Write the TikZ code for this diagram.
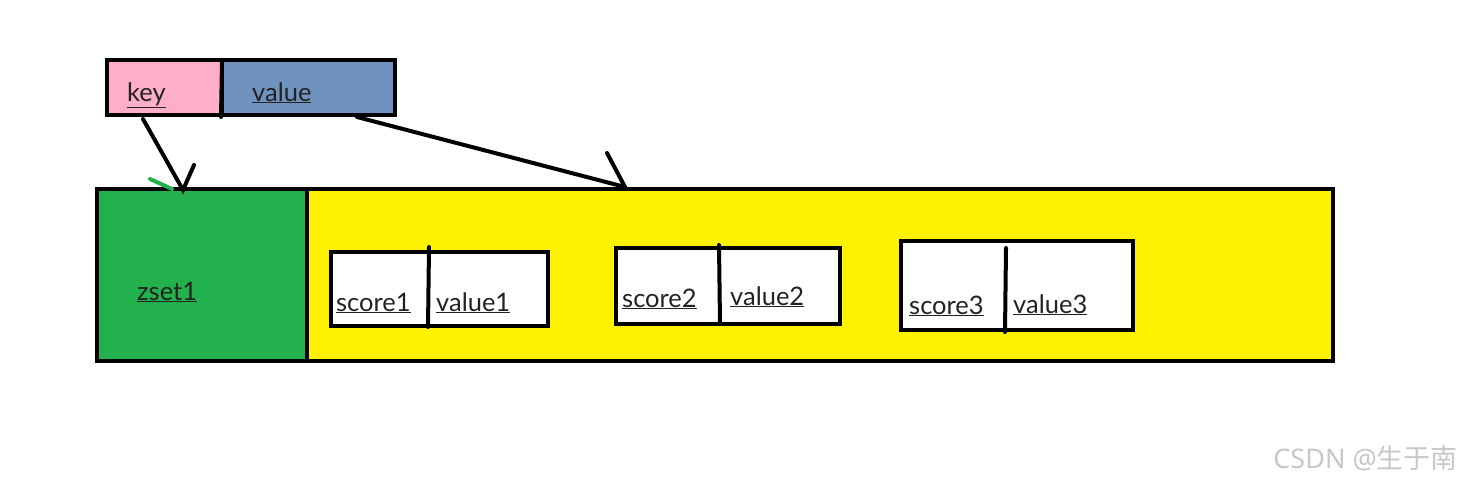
\documentclass[tikz,border=0pt]{standalone}
\usepackage{fontspec}
\setmainfont{Lato}
\newfontfamily\cjk{Noto Sans CJK SC}
\definecolor{kpink}{HTML}{FFAEC9}
\definecolor{vblue}{HTML}{7092BE}
\definecolor{zgreen}{HTML}{22B14C}
\definecolor{zyellow}{HTML}{FFF200}
\definecolor{txt}{HTML}{222222}
\definecolor{wm}{HTML}{C8C8C8}
\begin{document}
\begin{tikzpicture}[x=1pt,y=-1pt,
  box/.style={draw=black,line width=4pt,inner sep=0pt,rectangle},
  lbl/.style={anchor=base west,inner sep=0pt,font=\fontsize{25.5}{25.5}\selectfont,text=txt},
  stroke/.style={line width=4pt,line cap=round}]
\useasboundingbox[fill=white] (0,0) rectangle (1463,483);
% key / value
\node[box,fill=kpink,minimum width=115pt,minimum height=55pt] (key) at (164.5,87.5) {};
\node[box,fill=vblue,minimum width=173pt,minimum height=55pt] (val) at (308.5,87.5) {};
\coordinate (kvtop) at (222,62);
\coordinate (kvbot) at (221,117);
\draw[stroke] (kvtop) -- (kvbot);
\node[lbl] (tkey) at (127,101) {\underline{key}};
\node[lbl] (tval) at (252,101) {\underline{value}};
% zset
\node[box,fill=zgreen,minimum width=210pt,minimum height=172pt] (zset) at (202,275) {};
\node[box,fill=zyellow,minimum width=1026pt,minimum height=172pt] (list) at (820,275) {};
\node[lbl,text=txt] (tz) at (137,300) {\underline{zset1}};
% inner boxes
\node[box,fill=white,minimum width=217pt,minimum height=74pt] (b1) at (439.5,289) {};
\node[box,fill=white,minimum width=224pt,minimum height=76pt] (b2) at (728,286) {};
\node[box,fill=white,minimum width=232pt,minimum height=89pt] (b3) at (1017,285.5) {};
\coordinate (d1t) at (429,247); \coordinate (d1b) at (428,327);
\coordinate (d2t) at (719,245); \coordinate (d2b) at (720,323);
\coordinate (d3t) at (1006,248); \coordinate (d3b) at (1005,332);
\draw[stroke] (d1t) -- (d1b);
\draw[stroke] (d2t) -- (d2b);
\draw[stroke] (d3t) -- (d3b);
\node[lbl] (s1) at (336,311) {\underline{score1}};
\node[lbl] (v1) at (436,311) {\underline{value1}};
\node[lbl] (s2) at (622,307) {\underline{score2}};
\node[lbl] (v2) at (730,305) {\underline{value2}};
\node[lbl] (s3) at (909,314) {\underline{score3}};
\node[lbl] (v3) at (1013,313) {\underline{value3}};
% arrows
\coordinate (a1s) at (143,119);
\coordinate (a1e) at (183,190);
\coordinate (a1b) at (194,165);
\coordinate (g1) at (150,179);
\coordinate (g2) at (172,189);
\draw[stroke] (a1s) -- (a1e) -- (a1b);
\draw[stroke,zgreen] (g1) -- (g2);
\coordinate (a2s) at (357,117);
\coordinate (a2e) at (625,187);
\coordinate (a2b) at (607,153);
\draw[stroke] (a2s) -- (a2e) -- (a2b);
% watermark
\node[anchor=base east,inner sep=0pt,text=wm,font=\fontsize{27}{27}\selectfont] (wmk) at (1458,468) {\fontspec{Noto Sans}CSDN @\cjk 生于南};
\end{tikzpicture}
\end{document}
